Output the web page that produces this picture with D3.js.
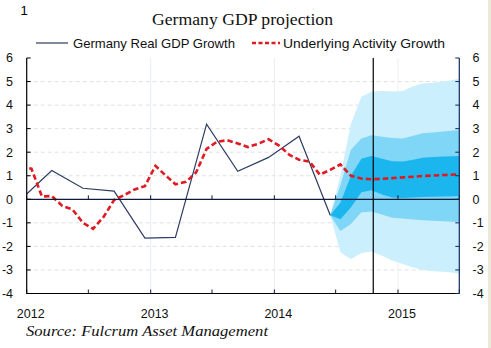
<!DOCTYPE html>
<html>
<head>
<meta charset="utf-8">
<script src="https://cdn.jsdelivr.net/npm/d3@7"></script>
<style>
  body { margin: 0; background: #fff; }
  svg { display: block; }
</style>
</head>
<body>
<div id="chart"></div>
<script>
// ---- data ----
// quarterly real GDP growth (mid of quarter-end month)
const gdpDates = ["2011-12-15", "2012-03-15", "2012-06-15", "2012-09-15", "2012-12-15",
    "2013-03-15", "2013-06-15", "2013-09-15", "2013-12-15", "2014-03-15", "2014-06-15"]
const gdpGrowth = [0.0, 1.22, 0.47, 0.35, -1.65, -1.62, 3.19, 1.19, 1.78, 2.68, -0.68]

// monthly underlying activity growth, Dec 2011 .. Jul 2015
const activityStart = "2011-12-15"
const activityGrowth = [1.4,
    1.3, 0.12, 0.14, -0.28, -0.43, -1.0, -1.25, -0.75, -0.03, 0.18, 0.42, 0.56,
    1.42, 1.0, 0.64, 0.74, 1.14, 2.14, 2.44, 2.51, 2.37, 2.22, 2.36, 2.55,
    2.28, 1.88, 1.68, 1.6, 1.05, 1.25, 1.48, 1.0, 0.88, 0.85, 0.87, 0.9,
    0.93, 0.96, 0.99, 1.01, 1.03, 1.05, 1.06]

// projection fan, monthly Jun 2014 .. Jul 2015
const fanStart = "2014-06-15"
const outerHi = [-0.68, 1.0, 3.2, 4.35, 4.58, 4.6, 4.58, 4.6, 4.8, 4.92, 4.95, 5.0, 5.08, 5.15]
const midHi = [-0.68, 0.6, 2.1, 2.58, 2.72, 2.66, 2.6, 2.58, 2.7, 2.8, 2.84, 2.88, 2.92, 2.96]
const innerHi = [-0.68, -0.15, 1.0, 1.72, 1.84, 1.72, 1.62, 1.6, 1.68, 1.76, 1.8, 1.82, 1.83, 1.84]
const innerLo = [-0.68, -0.85, -0.35, 0.3, 0.38, 0.2, 0.08, 0.05, 0.08, 0.1, 0.11, 0.12, 0.13, 0.14]
const midLo = [-0.68, -1.35, -1.05, -0.55, -0.52, -0.65, -0.78, -0.82, -0.86, -0.89, -0.91, -0.93, -0.95, -0.96]
const outerLo = [-0.68, -2.25, -2.55, -2.28, -2.22, -2.4, -2.6, -2.75, -2.9, -3.0, -3.05, -3.08, -3.12, -3.18]

const forecastMarker = "2014-10-20"
const yTicks = [-4, -3, -2, -1, 0, 1, 2, 3, 4, 5, 6]
const yearLabels = ["2012", "2013", "2014", "2015"]

// ---- chart ----
let width = 491, height = 348
let plotLeft = 26.7, plotRight = 459.3, plotTop = 58, plotBottom = 293.5

let parse = d3.timeParse("%Y-%m-%d")

let svg = d3.select("#chart").append("svg")
    .attr("width", width)
    .attr("height", height)

let x = d3.scaleTime()
    .domain([new Date(2012, 0, 1), new Date(2015, 6, 1)])
    .range([plotLeft, plotRight])
let y = d3.scaleLinear().domain([-4, 6]).range([plotBottom, plotTop])

// frame strip on the right edge
svg.append("rect")
    .attr("x", 488).attr("y", 0).attr("width", 3).attr("height", height)
    .attr("fill", "#ece9d8")

svg.append("defs").append("clipPath").attr("id", "plot")
    .append("rect")
    .attr("x", plotLeft).attr("y", plotTop)
    .attr("width", plotRight - plotLeft).attr("height", plotBottom - plotTop)

// gridlines
svg.append("g").selectAll("line")
    .data(yTicks.filter(d => d !== 0 && d !== -4 && d !== 6))
    .enter().append("line")
    .attr("x1", plotLeft).attr("x2", plotRight)
    .attr("y1", d => y(d)).attr("y2", d => y(d))
    .attr("stroke", "#d9d9d9")
    .attr("stroke-width", 0.8)
    .attr("stroke-dasharray", "4,3")

let halfYears = d3.timeMonth.every(6).range(x.domain()[0], d3.timeDay.offset(x.domain()[1], 1))
let years = halfYears.filter(d => d.getMonth() === 0 && d > x.domain()[0])

svg.append("g").selectAll("line")
    .data(years)
    .enter().append("line")
    .attr("x1", d => x(d)).attr("x2", d => x(d))
    .attr("y1", plotTop).attr("y2", plotBottom)
    .attr("stroke", "#e4e8ee")
    .attr("stroke-width", 0.8)

let plot = svg.append("g").attr("clip-path", "url(#plot)")

// projection fan
let fanDates = d3.range(outerHi.length).map(i => d3.timeMonth.offset(parse(fanStart), i))
let band = (lo, hi, colour) => {
    let area = d3.area()
        .x((d, i) => x(fanDates[i]))
        .y0((d, i) => y(lo[i]))
        .y1((d, i) => y(hi[i]))
    plot.append("path")
        .datum(lo)
        .attr("fill", colour)
        .attr("d", area)
}
band(outerLo, outerHi, "#cbeffc")
band(midLo, midHi, "#7fd6f6")
band(innerLo, innerHi, "#1cb6ee")

// zero line with ticks
svg.append("line")
    .attr("x1", plotLeft).attr("x2", plotRight)
    .attr("y1", y(0)).attr("y2", y(0))
    .attr("stroke", "#0e1a3a")
    .attr("stroke-width", 1.2)

let tickMarks = (yPos) => {
    svg.append("g").selectAll("line")
        .data(halfYears)
        .enter().append("line")
        .attr("x1", d => x(d)).attr("x2", d => x(d))
        .attr("y1", yPos).attr("y2", yPos - 4)
        .attr("stroke", "#0e1a3a")
        .attr("stroke-width", 1)
}
tickMarks(y(0))

// forecast marker
svg.append("line")
    .attr("x1", x(parse(forecastMarker))).attr("x2", x(parse(forecastMarker)))
    .attr("y1", plotTop).attr("y2", plotBottom)
    .attr("stroke", "#000")
    .attr("stroke-width", 1.2)

// series
let gdpLine = d3.line()
    .x((d, i) => x(parse(gdpDates[i])))
    .y(d => y(d))
plot.append("path")
    .datum(gdpGrowth)
    .attr("fill", "none")
    .attr("stroke", "#2d3c62")
    .attr("stroke-width", 1.2)
    .attr("d", gdpLine)

let activityDates = activityGrowth.map((d, i) => d3.timeMonth.offset(parse(activityStart), i))
let activityLine = d3.line()
    .x((d, i) => x(activityDates[i]))
    .y(d => y(d))
plot.append("path")
    .datum(activityGrowth)
    .attr("fill", "none")
    .attr("stroke", "#de1b22")
    .attr("stroke-width", 2.6)
    .attr("stroke-dasharray", "5.5,3")
    .attr("d", activityLine)

// axes frame
svg.append("line")
    .attr("x1", plotLeft).attr("x2", plotRight)
    .attr("y1", plotBottom).attr("y2", plotBottom)
    .attr("stroke", "#000").attr("stroke-width", 1.2)
tickMarks(plotBottom)

svg.append("line")
    .attr("x1", plotLeft).attr("x2", plotLeft)
    .attr("y1", plotTop).attr("y2", plotBottom)
    .attr("stroke", "#000").attr("stroke-width", 1.2)
svg.append("line")
    .attr("x1", plotRight).attr("x2", plotRight)
    .attr("y1", plotTop).attr("y2", plotBottom)
    .attr("stroke", "#0f2a5c").attr("stroke-width", 1.2)

svg.append("g").selectAll("line")
    .data(yTicks)
    .enter().append("line")
    .attr("x1", plotLeft).attr("x2", plotLeft + 4)
    .attr("y1", d => y(d)).attr("y2", d => y(d))
    .attr("stroke", "#000")
svg.append("g").selectAll("line")
    .data(yTicks)
    .enter().append("line")
    .attr("x1", plotRight).attr("x2", plotRight - 4)
    .attr("y1", d => y(d)).attr("y2", d => y(d))
    .attr("stroke", "#0f2a5c")

let labelFont = "'Liberation Sans', Arial, sans-serif"

svg.append("g").selectAll("text")
    .data(yTicks)
    .enter().append("text")
    .attr("x", 13).attr("y", d => y(d))
    .attr("dy", "0.35em")
    .attr("text-anchor", "end")
    .style("font-family", labelFont).style("font-size", "12.5px")
    .attr("fill", "#111")
    .text(d => d)

svg.append("g").selectAll("text")
    .data(yTicks)
    .enter().append("text")
    .attr("x", 472.5).attr("y", d => y(d))
    .attr("dy", "0.35em")
    .style("font-family", labelFont).style("font-size", "12.5px")
    .attr("fill", "#111")
    .text(d => d)

svg.append("g").selectAll("text")
    .data(yearLabels)
    .enter().append("text")
    .attr("x", d => x(parse(d + "-01-01")) + 4)
    .attr("y", 318)
    .attr("text-anchor", "middle")
    .style("font-family", labelFont).style("font-size", "12.5px")
    .attr("fill", "#111")
    .text(d => d)

// titles
svg.append("text")
    .attr("x", 24).attr("y", 15)
    .attr("text-anchor", "middle")
    .style("font-family", labelFont).style("font-size", "13px")
    .text("1")

svg.append("text")
    .attr("x", 152).attr("y", 25)
    .attr("textLength", 181).attr("lengthAdjust", "spacingAndGlyphs")
    .style("font-family", "'Liberation Serif', 'DejaVu Serif', serif").style("font-size", "16.5px")
    .attr("fill", "#111")
    .text("Germany GDP projection")

svg.append("text")
    .attr("x", 26).attr("y", 336)
    .attr("textLength", 242).attr("lengthAdjust", "spacingAndGlyphs")
    .style("font-family", "'Liberation Serif', 'DejaVu Serif', serif").style("font-size", "15px")
    .style("font-style", "italic")
    .attr("fill", "#111")
    .text("Source: Fulcrum Asset Management")

// legend
let legend = svg.append("g")
legend.append("line")
    .attr("x1", 36).attr("x2", 68).attr("y1", 43).attr("y2", 43)
    .attr("stroke", "#2d3c62").attr("stroke-width", 1.2)
legend.append("text")
    .attr("x", 73).attr("y", 47.5)
    .attr("textLength", 162).attr("lengthAdjust", "spacingAndGlyphs")
    .style("font-family", labelFont).style("font-size", "13px")
    .attr("fill", "#111")
    .text("Germany Real GDP Growth")
legend.append("line")
    .attr("x1", 252).attr("x2", 280).attr("y1", 43).attr("y2", 43)
    .attr("stroke", "#de1b22").attr("stroke-width", 2.4)
    .attr("stroke-dasharray", "4,2.5")
legend.append("text")
    .attr("x", 283).attr("y", 47.5)
    .attr("textLength", 162).attr("lengthAdjust", "spacingAndGlyphs")
    .style("font-family", labelFont).style("font-size", "13px")
    .attr("fill", "#111")
    .text("Underlying Activity Growth")
</script>
</body>
</html>
